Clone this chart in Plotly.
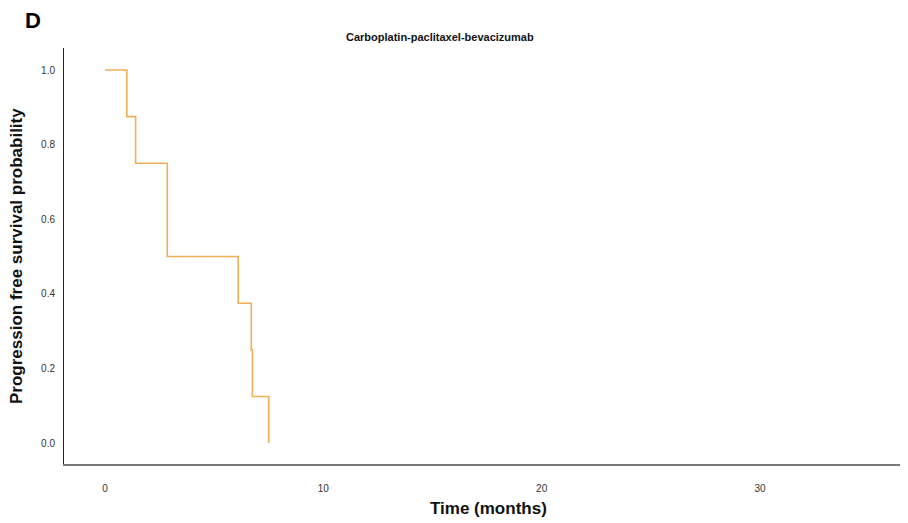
import plotly.graph_objects as go

# Kaplan-Meier step data (months, survival probability)
times = [0.0, 1.0, 1.4, 2.85, 6.1, 6.7, 6.75, 7.5]
survival = [1.0, 0.875, 0.75, 0.5, 0.375, 0.25, 0.125, 0.0]
x_ticks = [0, 10, 20, 30]
y_ticks = [0.0, 0.2, 0.4, 0.6, 0.8, 1.0]

# build step path: horizontal then vertical drop
xs, ys = [times[0]], [survival[0]]
for i in range(1, len(times)):
    xs.append(times[i]); ys.append(survival[i - 1])
    xs.append(times[i]); ys.append(survival[i])

OFF = 8  # page body margin
W, H = 908 - OFF, 523 - OFF
L, R, T, B = 64 - OFF, 908 - OFF, 48 - OFF, 464 - OFF

def px(x):
    return (x - OFF - L) / (R - L)

def py(y):
    return (B - (y - OFF)) / (B - T)

fig = go.Figure()
fig.add_trace(go.Scatter(x=xs, y=ys, mode="lines",
                         line=dict(color="#F0AE55", width=1.6),
                         hoverinfo="skip", showlegend=False))

fig.update_layout(
    width=W, height=H,
    margin=dict(l=L, r=W - R, t=T, b=H - B, pad=0),
    paper_bgcolor="white", plot_bgcolor="white",
    font=dict(family="Arial, Liberation Sans, sans-serif", color="#222"),
    xaxis=dict(range=[-1.88, 36.78], tickvals=x_ticks, ticktext=[str(v) for v in x_ticks],
               showgrid=False, zeroline=False, showline=True, linecolor="#7a7a7a", linewidth=2,
               ticks="", ticklen=0, tickfont=dict(size=10, color="#333"), ticklabelstandoff=14),
    yaxis=dict(range=[-0.056, 1.059], tickvals=y_ticks, ticktext=[f"{v:.1f}" for v in y_ticks],
               showgrid=False, zeroline=False, showline=True, linecolor="#222", linewidth=1,
               ticks="", ticklen=0, tickfont=dict(size=10, color="#333"), ticklabelstandoff=6),
    annotations=[
        dict(text="<b>D</b>", x=px(33), y=py(21), xref="paper", yref="paper",
             showarrow=False, font=dict(size=22, color="black"), xanchor="center", yanchor="middle"),
        dict(text="<b>Carboplatin-paclitaxel-bevacizumab</b>", x=px(440), y=py(37),
             xref="paper", yref="paper", showarrow=False,
             font=dict(size=11, color="#111"), xanchor="center", yanchor="middle"),
        dict(text="<b>Time (months)</b>", x=px(488), y=py(508), xref="paper", yref="paper",
             showarrow=False, font=dict(size=17, color="#111"), xanchor="center", yanchor="middle"),
        dict(text="<b>Progression free survival probability</b>", x=px(16), y=py(256),
             xref="paper", yref="paper", showarrow=False, textangle=-90,
             font=dict(size=17, color="#111"), xanchor="center", yanchor="middle"),
    ],
)

fig.write_html("out.html")
